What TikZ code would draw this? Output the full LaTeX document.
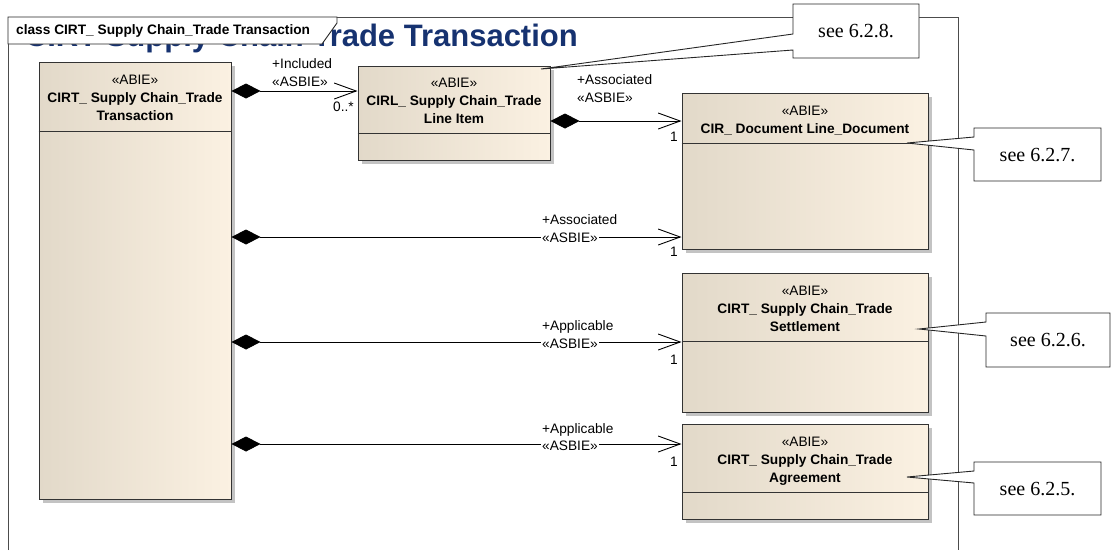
\documentclass[tikz,border=0pt]{standalone}
\usepackage{fontspec}
\setmainfont{Liberation Sans}
\newfontfamily\notefont{Liberation Serif}
\usetikzlibrary{arrows.meta,shadows,calc}
\definecolor{clsL}{RGB}{226,217,201}
\definecolor{clsR}{RGB}{251,241,226}
\definecolor{clsM}{RGB}{247,237,221}
\definecolor{titleblue}{RGB}{22,50,112}
\definecolor{shadowgrey}{RGB}{195,195,195}
\begin{document}
\begin{tikzpicture}[x=1pt,y=-1pt,
  lbl/.style={font=\fontsize{13.7}{16}\selectfont, inner sep=0pt},
  hdr/.style={font=\fontsize{13.7}{18}\selectfont, align=center, inner sep=0pt},
  cls/.style={draw=black!80, line width=1pt, left color=clsL, middle color=clsM, right color=clsR, inner sep=0pt},
  shad/.style={fill=shadowgrey, draw=none, inner sep=0pt},
  divl/.style={draw=black!80, line width=1pt},
  assoc/.style={line width=0.9pt, {Diamond[length=29pt,width=15pt]}-{Straight Barb[length=22pt,width=16pt]}},
  notebox/.style={draw=black!85, line width=0.9pt, fill=white},
  notetxt/.style={font=\notefont\fontsize{20}{22}\selectfont, inner sep=0pt},
  ontop/.style={lbl, fill=white, inner xsep=1pt, inner ysep=0pt}
]
\useasboundingbox (0,0) rectangle (1112,550);
% frame and title
\node[anchor=base east, font=\bfseries\fontsize{31}{31}\selectfont, text=titleblue, inner sep=0pt] (title) at (578,46) {CIRT Supply Chain Trade Transaction};
\draw[black!70, line width=0.8pt] (8,550) -- (8,17) -- (958,17) -- (958,550);
\draw[black!85, line width=0.9pt, fill=white] (8,17) -- (337,17) -- (337,23) -- (322,44) -- (8,44) -- cycle;
\node[lbl, anchor=west, font=\bfseries\fontsize{13.7}{16}\selectfont] (tab) at (16,31) {class CIRT\_ Supply Chain\_Trade Transaction};

% shadows
\node[shad, minimum width=192pt, minimum height=437pt] (transS) at (139,284.5) {};
\node[shad, minimum width=192pt, minimum height=94pt] (liS) at (458,117) {};
\node[shad, minimum width=246pt, minimum height=156pt] (docS) at (809,175) {};
\node[shad, minimum width=246pt, minimum height=139pt] (settleS) at (809,346.5) {};
\node[shad, minimum width=246pt, minimum height=95pt] (agreeS) at (809,475.5) {};
% classes
\node[cls, minimum width=192pt, minimum height=437pt] (trans) at (135,280.5) {};
\node[cls, minimum width=192pt, minimum height=94pt] (li) at (454,113) {};
\node[cls, minimum width=246pt, minimum height=156pt] (doc) at (805,171) {};
\node[cls, minimum width=246pt, minimum height=139pt] (settle) at (805,342.5) {};
\node[cls, minimum width=246pt, minimum height=95pt] (agree) at (805,471.5) {};

\draw[divl] ([yshift=-70pt]trans.north west) -- ([yshift=-70pt]trans.north east);
\draw[divl] ([yshift=-68pt]li.north west) -- ([yshift=-68pt]li.north east);
\draw[divl] ([yshift=-51pt]doc.north west) -- ([yshift=-51pt]doc.north east);
\draw[divl] ([yshift=-69pt]settle.north west) -- ([yshift=-69pt]settle.north east);
\draw[divl] ([yshift=-69pt]agree.north west) -- ([yshift=-69pt]agree.north east);

\node[hdr] (transT) at (135,98) {«ABIE»\\\textbf{CIRT\_ Supply Chain\_Trade}\\\textbf{Transaction}};
\node[hdr] (liT) at (454,101) {«ABIE»\\\textbf{CIRL\_ Supply Chain\_Trade}\\\textbf{Line Item}};
\node[hdr] (docT) at (805,120.5) {«ABIE»\\\textbf{CIR\_ Document Line\_Document}};
\node[hdr] (settleT) at (805,309) {«ABIE»\\\textbf{CIRT\_ Supply Chain\_Trade}\\\textbf{Settlement}};
\node[hdr] (agreeT) at (805,461) {«ABIE»\\\textbf{CIRT\_ Supply Chain\_Trade}\\\textbf{Agreement}};

% connectors
\coordinate (y1) at (0,91);
\coordinate (y2) at (0,121);
\coordinate (y3) at (0,237);
\coordinate (y4) at (0,342);
\coordinate (y5) at (0,444);
\draw[assoc] (trans.east |- y1) -- (li.west |- y1);
\draw[assoc] (li.east |- y2) -- (doc.west |- y2);
\draw[assoc] (trans.east |- y3) -- (doc.west |- y3);
\draw[assoc] (trans.east |- y4) -- (settle.west |- y4);
\draw[assoc] (trans.east |- y5) -- (agree.west |- y5);

\node[lbl, anchor=west] (c1a) at (272,64) {+Included};
\node[lbl, anchor=west] (c1b) at (272,82) {«ASBIE»};
\node[lbl, anchor=east] (c1m) at (354,107) {0..*};

\node[lbl, anchor=west] (c2a) at (577,80) {+Associated};
\node[lbl, anchor=west] (c2b) at (577,98) {«ASBIE»};
\node[lbl, anchor=east] (c2m) at (678,137) {1};

\node[lbl, anchor=west] (c3a) at (542,220) {+Associated};
\node[ontop, anchor=west] (c3b) at (541,238) {«ASBIE»};
\node[lbl, anchor=east] (c3m) at (678,252) {1};

\node[lbl, anchor=west] (c4a) at (542,327) {+Applicable};
\node[ontop, anchor=west] (c4b) at (541,344) {«ASBIE»};
\node[lbl, anchor=east] (c4m) at (678,360) {1};

\node[lbl, anchor=west] (c5a) at (542,430) {+Applicable};
\node[ontop, anchor=west] (c5b) at (541,446) {«ASBIE»};
\node[lbl, anchor=east] (c5m) at (678,462) {1};

% notes
\draw[notebox] (541,69) -- (793,34) -- (793,4) -- (919,4) -- (919,58) -- (793,58) -- (793,50) -- cycle;
\node[notetxt] (n8) at (856,31) {see 6.2.8.};
\draw[notebox] (907,143) -- (974,137) -- (974,128) -- (1101,128) -- (1101,181) -- (974,181) -- (974,150) -- cycle;
\node[notetxt] (n7) at (1037.5,155) {see 6.2.7.};
\draw[notebox] (919,329) -- (986,322) -- (986,313) -- (1110,313) -- (1110,367) -- (986,367) -- (986,336) -- cycle;
\node[notetxt] (n6) at (1048,340) {see 6.2.6.};
\draw[notebox] (907,477) -- (974,471) -- (974,462) -- (1101,462) -- (1101,515) -- (974,515) -- (974,483) -- cycle;
\node[notetxt] (n5) at (1037.5,489) {see 6.2.5.};
\end{tikzpicture}
\end{document}
